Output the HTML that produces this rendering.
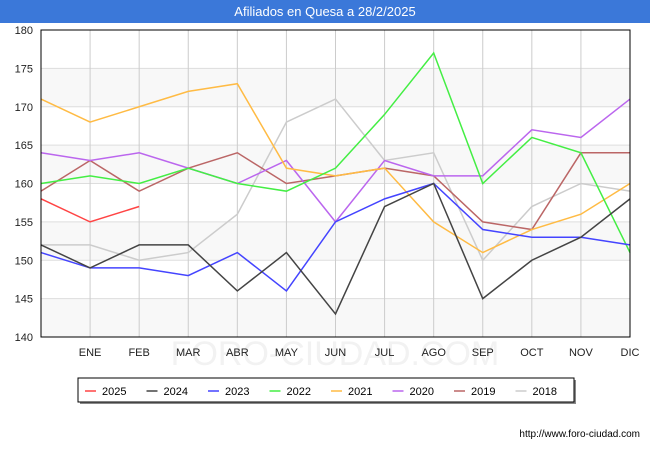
<!DOCTYPE html>
<html><head><meta charset="utf-8"><style>
body{margin:0;width:650px;height:450px;background:#fff;font-family:"Liberation Sans",sans-serif;overflow:hidden}
#title{position:absolute;left:0;top:0;width:650px;height:23px;background:#3b78d9;color:#fff;font-size:13px;text-align:center;line-height:23px}
</style></head><body>
<div id="title">Afiliados en Quesa a 28/2/2025</div>
<svg id="c" width="650" height="450" style="position:absolute;left:0;top:0"></svg>
<script>
const months=["","ENE","FEB","MAR","ABR","MAY","JUN","JUL","AGO","SEP","OCT","NOV","DIC"];
const yTicks=[140,145,150,155,160,165,170,175,180];
const seriesNames=["2025","2024","2023","2022","2021","2020","2019","2018"];
const colors=["#ff4444","#444444","#4444ff","#44ee44","#ffbb44","#bb66ee","#bb6666","#cccccc"];
const s2025=[158,155,157];
const s2024=[152,149,152,152,146,151,143,157,160,145,150,153,158];
const s2023=[151,149,149,148,151,146,155,158,160,154,153,153,152];
const s2022=[160,161,160,162,160,159,162,169,177,160,166,164,151];
const s2021=[171,168,170,172,173,162,161,162,155,151,154,156,160];
const s2020=[164,163,164,162,160,163,155,163,161,161,167,166,171];
const s2019=[159,163,159,162,164,160,161,162,161,155,154,164,164];
const s2018=[152,152,150,151,156,168,171,163,164,150,157,160,159];
const allSeries=[s2025,s2024,s2023,s2022,s2021,s2020,s2019,s2018];
const L=41,R=630,T=30,B=337;
const x=i=>L+i*(R-L)/12;
const y=v=>B-(v-140)*(B-T)/40;
const svg=document.getElementById('c');const NS="http://www.w3.org/2000/svg";
function mk(t,a,p){const e=document.createElementNS(NS,t);for(const k in a)e.setAttribute(k,a[k]);(p||svg).appendChild(e);return e;}
for(let i=0;i<yTicks.length-1;i+=2){const r=mk('rect',{x:L,y:y(yTicks[i+1]),width:R-L,height:y(yTicks[i])-y(yTicks[i+1]),fill:'#f8f8f8'});

}
const wm=mk('text',{x:335,y:365,'text-anchor':'middle','font-size':34,fill:'#f2f2f2'});wm.textContent='FORO-CIUDAD.COM';


yTicks.forEach(v=>{const l=mk('line',{x1:L,x2:R,y1:y(v),y2:y(v),stroke:'#dddddd'});


const t=mk('text',{x:L-8,y:y(v)+4,'text-anchor':'end','font-size':11,fill:'#222'});t.textContent=v;

});
months.forEach((m,i)=>{const l=mk('line',{x1:x(i),x2:x(i),y1:T,y2:B,stroke:'#cccccc'});


if(m){const t=mk('text',{x:x(i),y:B+19,'text-anchor':'middle','font-size':11,fill:'#222'});t.textContent=m;

}});
for(let s=allSeries.length-1;s>=0;s--){const p=mk('polyline',{points:allSeries[s].map((v,i)=>x(i)+','+y(v)).join(' '),fill:'none',stroke:colors[s],'stroke-width':1.5});

}
const fr=mk('rect',{x:L,y:T,width:R-L,height:B-T,fill:'none',stroke:'#000'});


mk('rect',{x:80,y:380,width:496,height:24,fill:'#888'});
const lg=mk('rect',{x:78,y:378,width:496,height:24,fill:'#fff',stroke:'#000'});


seriesNames.forEach((n,i)=>{const lx=85+i*61.5;
const l=mk('line',{x1:lx,x2:lx+11,y1:391,y2:391,stroke:colors[i],'stroke-width':1.5});


const t=mk('text',{x:lx+17,y:395,'font-size':11,fill:'#000'});t.textContent=n;

});
const u=mk('text',{x:640,y:437,'text-anchor':'end','font-size':10,fill:'#000'});u.textContent='http://www.foro-ciudad.com';


</script>
</body></html>
